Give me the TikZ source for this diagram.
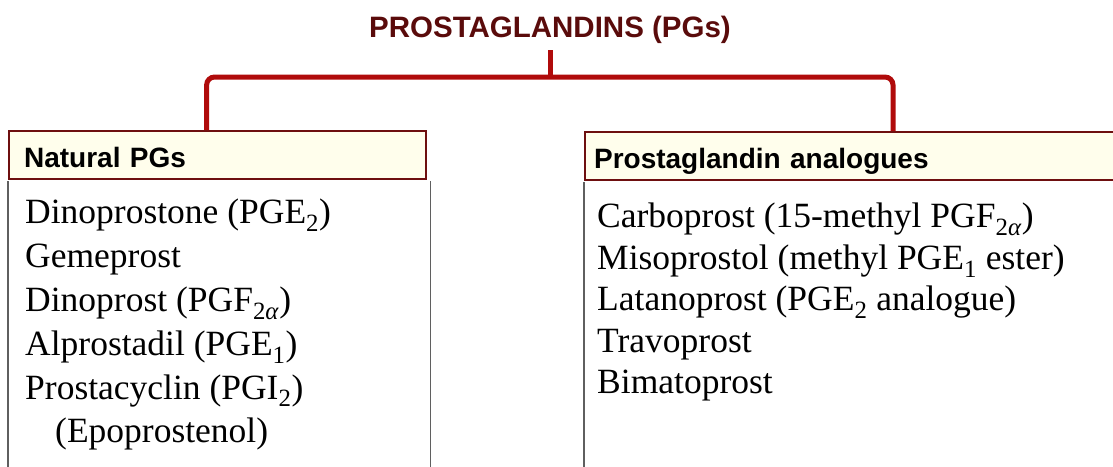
\documentclass[tikz,border=0pt]{standalone}
\usepackage{fontspec}
\setmainfont{Liberation Serif}
\setsansfont{Liberation Sans}
\usepackage{tikz}
\usetikzlibrary{positioning,calc}
\definecolor{pgred}{HTML}{B00B0B}
\definecolor{pgdark}{HTML}{5A0B0B}
\definecolor{hdrline}{HTML}{6E0F0F}
\definecolor{hdrfill}{HTML}{FFFEEC}
\definecolor{sideline}{HTML}{5F5F5F}

\begin{document}
\begin{tikzpicture}[x=1pt, y=1pt,
  title/.style={font=\sffamily\bfseries\fontsize{29.5}{34}\selectfont, text=pgdark, inner sep=7pt},
  hdr/.style={draw=hdrline, fill=hdrfill, line width=2.2pt, anchor=north west, minimum height=48pt,
    text height=26pt, text depth=2pt, align=left, inner xsep=15pt, font=\sffamily\bfseries\fontsize{28}{32}\selectfont},
  list/.style={anchor=north west, align=left, inner sep=0pt},
  link/.style={draw=pgred, line width=5pt, rounded corners=8pt},
  side/.style={draw=sideline, line width=1.4pt}]
\useasboundingbox (0,0) rectangle (1113,-466);
\clip (0,0) rectangle (1113,-466);
\node[title, anchor=base] (top) at (550,-37) {PROSTAGLANDINS (PGs)};
\node[hdr, text width=387pt] (natural) at (8,-130) {Natural PGs};
\node[hdr, text width=532pt, inner xsep=9pt] (analog) at (584,-131) {Prostaglandin analogues};
\node[list, font=\fontsize{35.5}{43.8}\selectfont] (natlist) at (25,-199) {Dinoprostone (PGE\textsubscript{2})\\
Gemeprost\\ Dinoprost (PGF\textsubscript{2\textit{α}})\\ Alprostadil (PGE\textsubscript{1})\\
Prostacyclin (PGI\textsubscript{2})\\ \hspace*{30pt}(Epoprostenol)};
\node[list, font=\fontsize{35.5}{41.5}\selectfont] (anlist) at (597,-203) {Carboprost (15-methyl PGF\textsubscript{2\textit{α}})\\
Misoprostol (methyl PGE\textsubscript{1} ester)\\ Latanoprost (PGE\textsubscript{2} analogue)\\
Travoprost\\ Bimatoprost};
% tree lines
\coordinate (hub) at (top.south |- 0,-77);
\draw[link] (top.south) -- (hub);
\draw[link] ([xshift=-11pt]natural.north) |- (hub) -| ([xshift=309pt]analog.north west);
% open list boxes
\draw[side] ([yshift=-1pt]natural.south west) -- ++(0,-320) -| ([xshift=3pt,yshift=-1pt]natural.south east);
\draw[side] ([yshift=-1pt]analog.south west) -- ++(0,-320);
\end{tikzpicture}
\end{document}
